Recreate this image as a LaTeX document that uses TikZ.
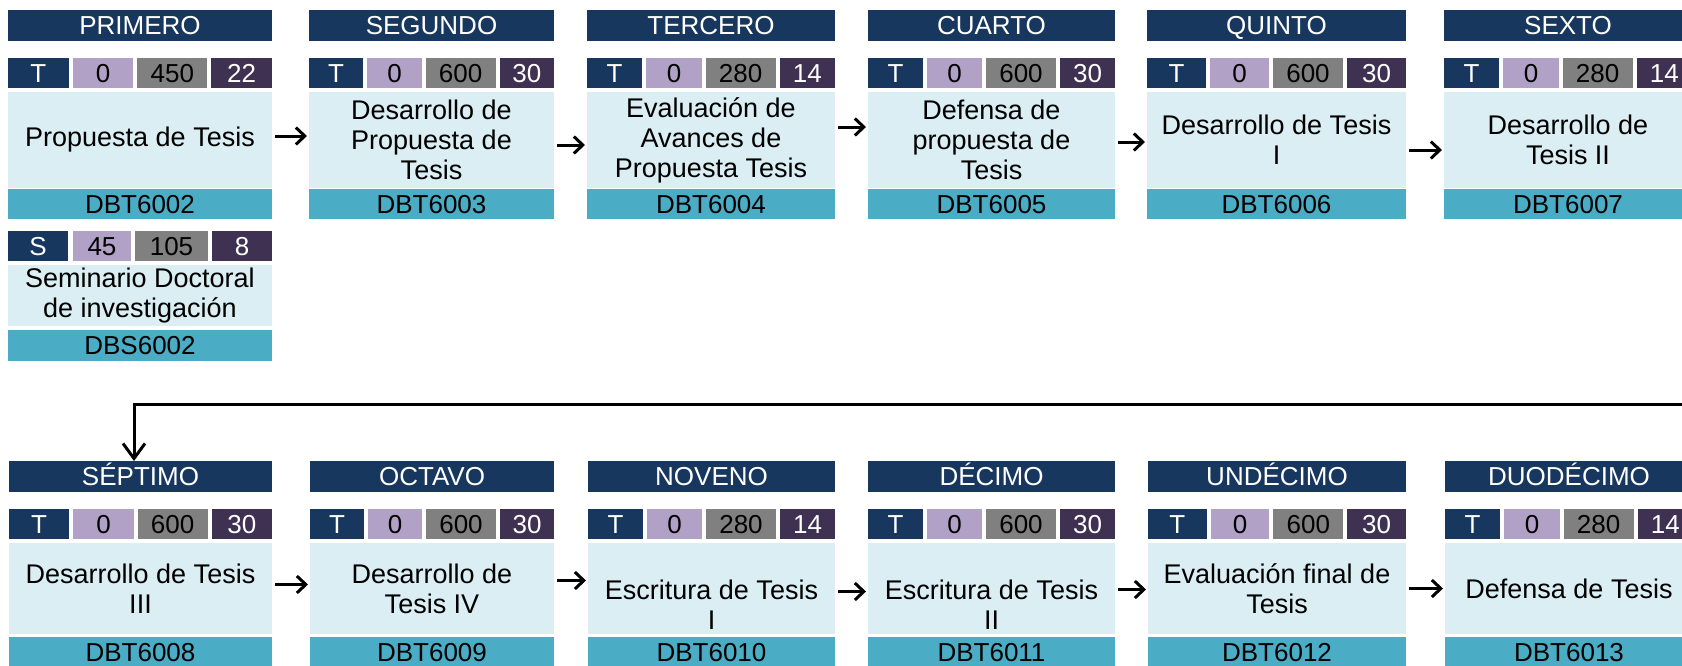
\documentclass[tikz,border=0pt]{standalone}
\usepackage{fontspec}
\setmainfont{Liberation Sans}
\usetikzlibrary{arrows.meta,calc}

\definecolor{azulcab}{HTML}{17375E}
\definecolor{lila}{HTML}{B2A1C7}
\definecolor{gris}{HTML}{808080}
\definecolor{morado}{HTML}{3F3151}
\definecolor{celeste}{HTML}{DAEEF3}
\definecolor{turquesa}{HTML}{4BACC6}

\tikzset{
    caja/.style={anchor=north west, inner sep=0pt, outer sep=0pt,
        font=\fontsize{26}{30}\selectfont, text height=18.6pt, text depth=0pt},
    cabecera/.style={caja, fill=azulcab, text=white, minimum height=31pt},
    cifra/.style={caja, minimum height=30pt},
    cuerpo/.style={anchor=north west, inner sep=0pt, outer sep=0pt, fill=celeste},
    texto/.style={align=center, inner sep=0pt, font=\fontsize{27}{30}\selectfont},
    codigo/.style={caja, fill=turquesa, minimum height=30pt},
    flecha/.style={line width=3pt, -{Straight Barb[length=9pt,width=17pt]},
        shorten <=3pt, shorten >=2pt},
    flechagrande/.style={line width=3pt, -{Straight Barb[length=15pt,width=22pt]}}
}

\begin{document}
\begin{tikzpicture}[x=1pt,y=-1pt]
    \useasboundingbox (0,0) rectangle (1682,665);
    \clip (0,0) rectangle (1682,665);
    \foreach \id/\x/\y/\w/\tit/\va/\vb/\vc/\txt/\cod/\dy in {
        1/8/10/264/PRIMERO/0/450/22/{Propuesta de Tesis}/DBT6002/0,
        2/309/10/245/SEGUNDO/0/600/30/{Desarrollo de\\Propuesta de\\Tesis}/DBT6003/0,
        3/587/10/248/TERCERO/0/280/14/{Evaluación de\\Avances de\\Propuesta Tesis}/DBT6004/0,
        4/868/10/247/CUARTO/0/600/30/{Defensa de\\propuesta de\\Tesis}/DBT6005/0,
        5/1147/10/259/QUINTO/0/600/30/{Desarrollo de Tesis\\I}/DBT6006/0,
        6/1444/10/248/SEXTO/0/280/14/{Desarrollo de\\Tesis II}/DBT6007/0,
        7/9/461/263/SÉPTIMO/0/600/30/{Desarrollo de Tesis\\III}/DBT6008/0,
        8/310/461/244/OCTAVO/0/600/30/{Desarrollo de\\Tesis IV}/DBT6009/0,
        9/588/461/247/NOVENO/0/280/14/{Escritura de Tesis\\I}/DBT6010/-16,
        10/868/461/247/DÉCIMO/0/600/30/{Escritura de Tesis\\II}/DBT6011/-16,
        11/1148/461/258/UNDÉCIMO/0/600/30/{Evaluación final de\\Tesis}/DBT6012/0,
        12/1445/461/248/DUODÉCIMO/0/280/14/{Defensa de Tesis}/DBT6013/0}
    {
        \pgfmathsetmacro{\ancho}{(\w-82)/3}
        \pgfmathsetmacro{\lh}{\y<100 ? 96 : 91}
        \pgfmathsetmacro{\cy}{\y<100 ? 179 : 176}
        \node[cabecera, minimum width=\w pt] (h\id) at (\x,\y) {\tit};
        \node[cifra, fill=azulcab, text=white, minimum width=\ancho pt] (t\id) at (\x,\y+48) {T};
        \node[cifra, fill=lila, minimum width=\ancho pt] (p\id) at (\x+\ancho+4,\y+48) {\va};
        \node[cifra, fill=gris, minimum width=70pt] (g\id) at (\x+2*\ancho+8,\y+48) {\vb};
        \node[cifra, fill=morado, text=white, minimum width=\ancho pt] (c\id) at (\x+2*\ancho+82,\y+48) {\vc};
        \node[cuerpo, minimum width=\w pt, minimum height=\lh pt] (l\id) at (\x,\y+82) {};
        \node[texto] (x\id) at ([yshift=\dy pt]l\id.center) {\txt};
        \node[codigo, minimum width=\w pt] (d\id) at (\x,\y+\cy) {\cod};
    }
    \node[cifra, fill=azulcab, text=white, minimum width=60pt] (ts) at (8,231) {S};
    \node[cifra, fill=lila, minimum width=58pt] (ps) at (73,231) {45};
    \node[cifra, fill=gris, minimum width=73pt] (gs) at (135,231) {105};
    \node[cifra, fill=morado, text=white, minimum width=60pt] (cs) at (212,231) {8};
    \node[cuerpo, minimum width=264pt, minimum height=61pt] (ls) at (8,265) {};
    \node[texto] (xs) at (ls.center) {Seminario Doctoral\\de investigación};
    \node[codigo, minimum width=264pt, minimum height=31pt] (ds) at (8,330) {DBS6002};
    \foreach \i/\j/\d in {1/2/4, 2/3/-5, 3/4/13, 4/5/-2, 5/6/-10, 7/8/4, 8/9/8, 9/10/-3, 10/11/-1, 11/12/0}
        \draw[flecha] ([yshift=\d pt]l\i.east) -- ([yshift=\d pt]l\j.west);
    \coordinate (salida) at (1700,404);
    \draw[flechagrande] (salida) -| ($(h7.north west)+(125,0)$);
\end{tikzpicture}
\end{document}
